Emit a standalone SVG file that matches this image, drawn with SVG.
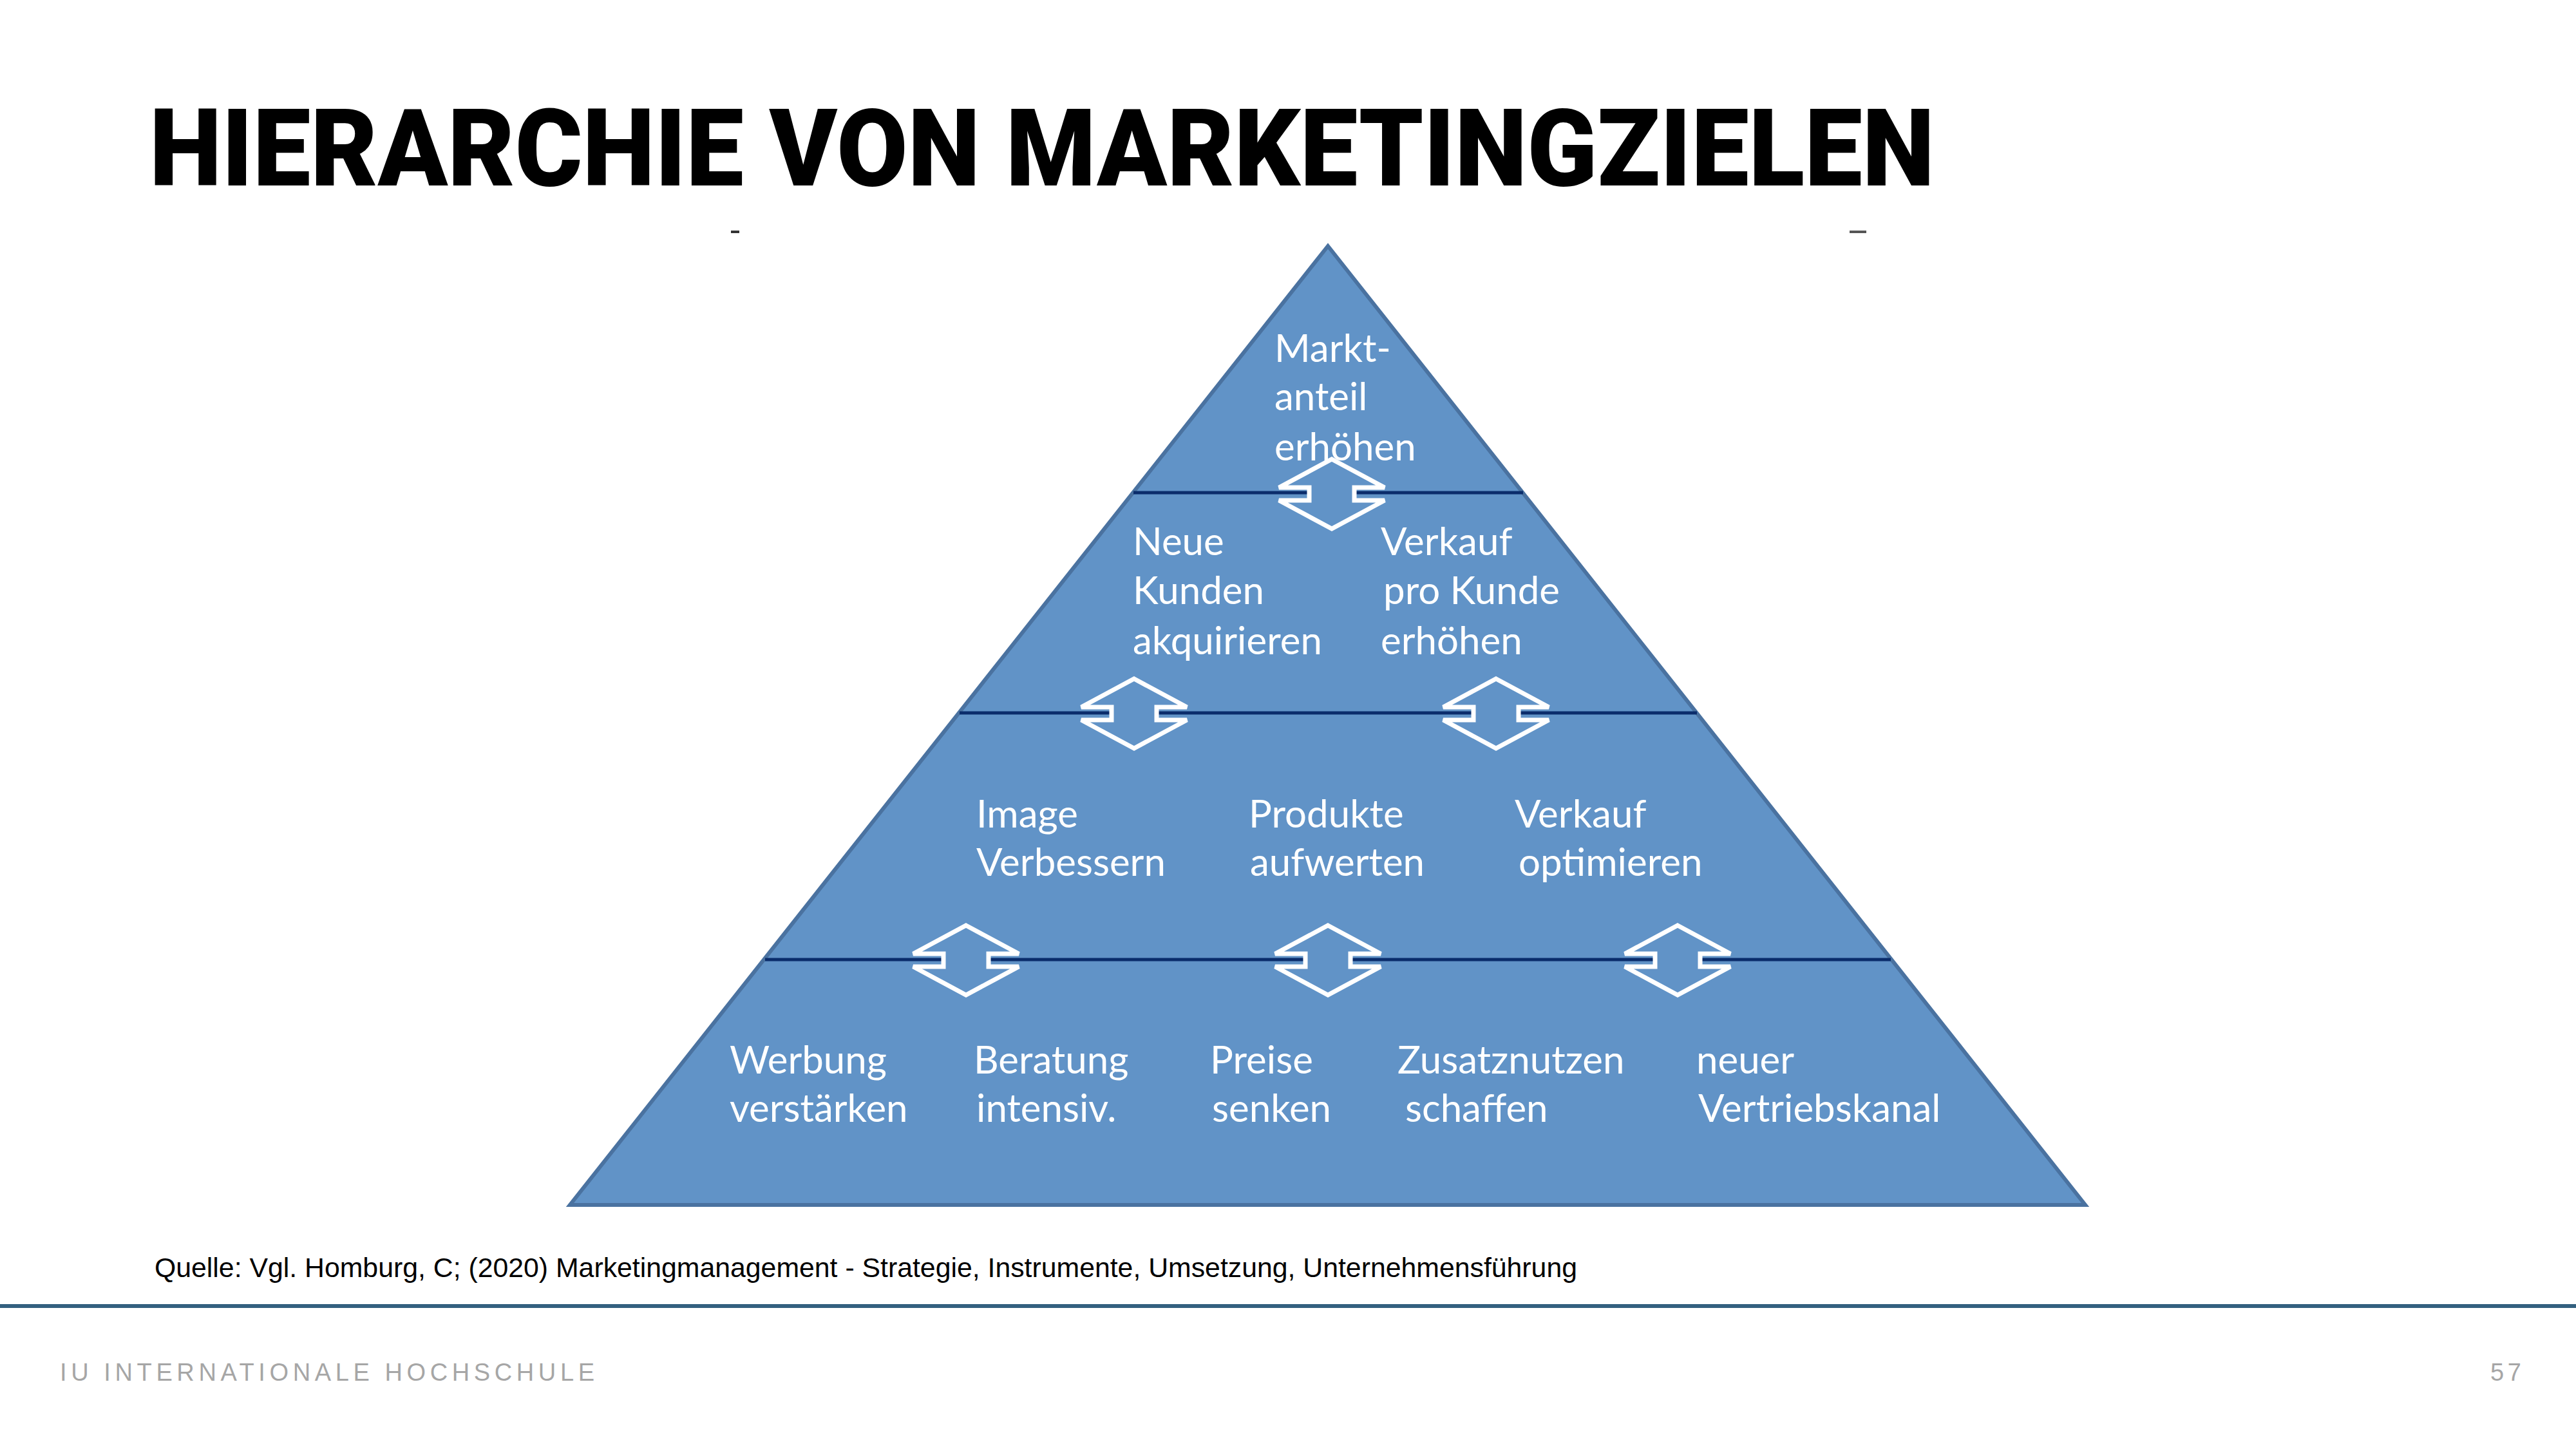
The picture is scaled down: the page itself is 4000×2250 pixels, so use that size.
<svg xmlns="http://www.w3.org/2000/svg" width="4000" height="2250" viewBox="0 0 4000 2250">
<defs>
<style>
.title{font-family:Roboto,"Liberation Sans",sans-serif;font-weight:900;font-size:167px;fill:#000}
.lbl{font-family:Lato,"Liberation Sans",sans-serif;font-size:60px;fill:#fff}
.src{font-family:"Liberation Sans",Arial,sans-serif;font-size:42px;fill:#000}
.foot{font-family:"Liberation Sans",Arial,sans-serif;font-size:38px;fill:#a6a6a6}
.band{stroke:#0a2c6b;stroke-width:5;fill:none}
.arr{fill:#6193c7;stroke:#fff;stroke-width:7;stroke-linejoin:miter}
</style>
<path id="ud" d="M0,-54 L82,-10 L35,-10 L35,10 L82,10 L0,54 L-82,10 L-35,10 L-35,-10 L-82,-10 Z"/>
</defs>
<rect width="4000" height="2250" fill="#fff"/>
<text class="title" x="232" y="288" textLength="2772" lengthAdjust="spacingAndGlyphs">HIERARCHIE VON MARKETINGZIELEN</text>
<rect x="1135" y="358" width="13" height="4" fill="#333"/>
<rect x="2872" y="358" width="26" height="4" fill="#555"/>
<g id="pyramid">
<polygon points="2062,382 3238,1871 885,1871" fill="#6193c7" stroke="#4a72a0" stroke-width="6" stroke-linejoin="miter"/>
</g>
<g id="connectors">
<line class="band" x1="1760" y1="765" x2="2365" y2="765"/>
<line class="band" x1="1490" y1="1107" x2="2635" y2="1107"/>
<line class="band" x1="1188" y1="1490" x2="2936" y2="1490"/>
<use href="#ud" class="arr" transform="translate(2068,767)"/>
<use href="#ud" class="arr" transform="translate(1761,1108)"/>
<use href="#ud" class="arr" transform="translate(2323,1108)"/>
<use href="#ud" class="arr" transform="translate(1500,1491)"/>
<use href="#ud" class="arr" transform="translate(2062,1491)"/>
<use href="#ud" class="arr" transform="translate(2605,1491)"/>
</g>
<g id="n-marktanteil"><text class="lbl" x="1979" y="562">Markt-</text><text class="lbl" x="1979" y="637">anteil</text><text class="lbl" x="1979" y="715">erhöhen</text></g>
<g id="n-neuekunden"><text class="lbl" x="1759" y="862">Neue</text><text class="lbl" x="1759" y="938">Kunden</text><text class="lbl" x="1759" y="1016">akquirieren</text></g>
<g id="n-verkaufprokunde"><text class="lbl" x="2144" y="862">Verkauf</text><text class="lbl" x="2148" y="938">pro Kunde</text><text class="lbl" x="2144" y="1016">erhöhen</text></g>
<g id="n-image"><text class="lbl" x="1516" y="1285">Image</text><text class="lbl" x="1516" y="1360">Verbessern</text></g>
<g id="n-produkte"><text class="lbl" x="1939" y="1285">Produkte</text><text class="lbl" x="1941" y="1360">aufwerten</text></g>
<g id="n-verkaufopt"><text class="lbl" x="2352" y="1285">Verkauf</text><text class="lbl" x="2358" y="1360">optimieren</text></g>
<g id="n-werbung"><text class="lbl" x="1133" y="1667">Werbung</text><text class="lbl" x="1133" y="1742">verstärken</text></g>
<g id="n-beratung"><text class="lbl" x="1512" y="1667">Beratung</text><text class="lbl" x="1516" y="1742">intensiv.</text></g>
<g id="n-preise"><text class="lbl" x="1879" y="1667">Preise</text><text class="lbl" x="1882" y="1742">senken</text></g>
<g id="n-zusatznutzen"><text class="lbl" x="2170" y="1667">Zusatznutzen</text><text class="lbl" x="2182" y="1742">schaffen</text></g>
<g id="n-vertrieb"><text class="lbl" x="2634" y="1667">neuer</text><text class="lbl" x="2637" y="1742">Vertriebskanal</text></g>
<text class="src" x="240" y="1983" textLength="2209" lengthAdjust="spacingAndGlyphs">Quelle: Vgl. Homburg, C; (2020) Marketingmanagement - Strategie, Instrumente, Umsetzung, Unternehmensführung</text>
<rect x="0" y="2025" width="4000" height="6" fill="#33607f"/>
<text class="foot" x="93" y="2144" textLength="830" lengthAdjust="spacing">IU INTERNATIONALE HOCHSCHULE</text>
<text class="foot" x="3867" y="2144" textLength="48" lengthAdjust="spacing">57</text>
</svg>
